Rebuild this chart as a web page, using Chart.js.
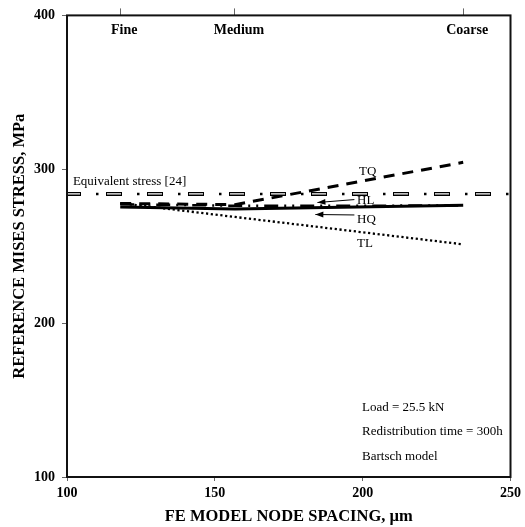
<!DOCTYPE html>
<html>
<head>
<meta charset="utf-8">
<script src="https://cdn.jsdelivr.net/npm/chart.js@4/dist/chart.umd.min.js"></script>
<style>
  body { margin: 0; background: #fff; }
  canvas { display: block; }
</style>
</head>
<body>
<canvas id="stressChart" width="525" height="527"></canvas>
<script>
/* ---------- DATA ---------- */
const meshNames = ["Fine", "Medium", "Coarse"];
const nodeSpacing = [118, 156.8, 234];          // µm
const tqStress = [277.8, 277.0, 304.5];         // MPa
const hlStress = [277.3, 276.3, 276.4];
const hqStress = [275.5, 274.1, 276.6];
const tlStress = [278.0, 269.0, 251.2];
const equivStress = 284;
const xLimits = [100, 250];
const yLimits = [100, 400];
const xStep = 50;
const yStep = 100;

const SERIF = "'Liberation Serif', 'Times New Roman', serif";

function toPoints(xs, ys) {
  return xs.map((x, i) => ({ x: x, y: ys[i] }));
}
const equivPoints = xLimits.map(x => ({ x: x, y: equivStress }));

/* ---------- ANNOTATIONS ---------- */
const annotations = {
  id: "annotations",
  afterDatasetsDraw(chart) {
    const { ctx, chartArea: a, scales } = chart;
    const xs = scales.x, ys = scales.y;
    const px = v => xs.getPixelForValue(v);
    const py = v => ys.getPixelForValue(v);

    ctx.save();
    // frame
    ctx.strokeStyle = "#111";
    ctx.lineWidth = 2;
    ctx.strokeRect(a.left, a.top, a.right - a.left, a.bottom - a.top);

    ctx.fillStyle = "#000";
    ctx.textBaseline = "alphabetic";

    // mesh names under the top ticks
    ctx.font = "bold 14px " + SERIF;
    ctx.textAlign = "center";
    nodeSpacing.forEach((v, i) => {
      ctx.fillText(meshNames[i], px(v) + 4, a.top + 19);
    });

    ctx.font = "13px " + SERIF;
    ctx.textAlign = "left";
    ctx.fillText("Equivalent stress [24]", px(102), py(equivStress) - 9);

    ctx.fillText("TQ", px(198.8), py(296.1));
    ctx.fillText("HL", px(198.1), py(277.7));
    ctx.fillText("HQ", px(198.1), py(264.8));
    ctx.fillText("TL", px(198.1), py(249.7));

    ctx.fillText("Load = 25.5 kN", px(199.8), py(143.2));
    ctx.fillText("Redistribution time = 300h", px(199.8), py(127.1));
    ctx.fillText("Bartsch model", px(199.8), py(111));

    // arrows
    function arrow(x1, y1, x2, y2) {
      const ang = Math.atan2(y2 - y1, x2 - x1);
      ctx.strokeStyle = "#000";
      ctx.lineWidth = 1;
      ctx.beginPath();
      ctx.moveTo(x1, y1);
      ctx.lineTo(x2, y2);
      ctx.stroke();
      ctx.beginPath();
      ctx.moveTo(x2, y2);
      ctx.lineTo(x2 - 8 * Math.cos(ang) + 3 * Math.sin(ang), y2 - 8 * Math.sin(ang) - 3 * Math.cos(ang));
      ctx.lineTo(x2 - 8 * Math.cos(ang) - 3 * Math.sin(ang), y2 - 8 * Math.sin(ang) + 3 * Math.cos(ang));
      ctx.closePath();
      ctx.fill();
    }
    arrow(px(197.2), py(280.3), px(184.7), py(278.4));
    arrow(px(197.2), py(270.3), px(184.0), py(270.6));

    ctx.restore();
  }
};

/* ---------- CHART ---------- */
const lineBase = {
  showLine: true,
  pointRadius: 0,
  pointHoverRadius: 0,
  tension: 0,
  fill: false,
  borderColor: "#000",
  borderCapStyle: "butt"
};

new Chart(document.getElementById("stressChart"), {
  type: "scatter",
  data: {
    datasets: [
      // equivalent stress: hollow dashes + dots
      { ...lineBase, label: "Equivalent dots", data: equivPoints, borderWidth: 2.5,
        borderDash: [2.5, 38.5], borderDashOffset: 12, order: 1 },
      { ...lineBase, label: "Equivalent inner", data: equivPoints, borderWidth: 1.2,
        borderColor: "#fff", borderDash: [14, 27], borderDashOffset: 1, order: 2 },
      { ...lineBase, label: "Equivalent stress", data: equivPoints, borderWidth: 4,
        borderDash: [16, 25], borderDashOffset: 2, order: 3 },
      { ...lineBase, label: "TQ", data: toPoints(nodeSpacing, tqStress), borderWidth: 3,
        borderDash: [11, 8], order: 4 },
      { ...lineBase, label: "HL", data: toPoints(nodeSpacing, hlStress), borderWidth: 2.5,
        borderDash: [14, 6, 2, 6, 2, 6], order: 5 },
      { ...lineBase, label: "HQ", data: toPoints(nodeSpacing, hqStress), borderWidth: 3,
        order: 6 },
      { ...lineBase, label: "TL", data: toPoints(nodeSpacing, tlStress), borderWidth: 2.3,
        borderDash: [2.2, 2.6], order: 7 }
    ]
  },
  options: {
    responsive: false,
    animation: false,
    layout: { padding: { left: 0, right: 10, top: 0, bottom: 0 } },
    plugins: {
      legend: { display: false },
      tooltip: { enabled: false }
    },
    scales: {
      x: {
        type: "linear",
        position: "bottom",
        min: xLimits[0],
        max: xLimits[1],
        afterFit: s => { s.height = 50; },
        ticks: {
          stepSize: xStep,
          color: "#000",
          padding: 4,
          font: { family: SERIF, size: 14, weight: "bold" }
        },
        grid: { drawOnChartArea: false, drawTicks: true, tickLength: 4, color: "#666" },
        border: { display: false },
        title: {
          display: true,
          text: "FE MODEL NODE SPACING, µm",
          color: "#000",
          padding: { top: 0, bottom: 0 },
          font: { family: SERIF, size: 16.5, weight: "bold", lineHeight: 1.2 }
        }
      },
      x2: {
        type: "linear",
        position: "top",
        min: xLimits[0],
        max: xLimits[1],
        afterBuildTicks: s => { s.ticks = nodeSpacing.map(v => ({ value: v })); },
        afterFit: s => { s.height = 12; },
        ticks: { display: false },
        grid: { drawOnChartArea: false, drawTicks: true, tickLength: 7, color: "#666" },
        border: { display: false }
      },
      y: {
        type: "linear",
        min: yLimits[0],
        max: yLimits[1],
        afterFit: s => { s.width = 67; },
        ticks: {
          stepSize: yStep,
          color: "#000",
          padding: 7,
          font: { family: SERIF, size: 14, weight: "bold" }
        },
        grid: { drawOnChartArea: false, drawTicks: true, tickLength: 5, color: "#666" },
        border: { display: false },
        title: {
          display: true,
          text: "REFERENCE MISES STRESS, MPa",
          color: "#000",
          padding: { top: 10, bottom: 0 },
          font: { family: SERIF, size: 16.5, weight: "bold", lineHeight: 1.2 }
        }
      }
    }
  },
  plugins: [annotations]
});
</script>
</body>
</html>
